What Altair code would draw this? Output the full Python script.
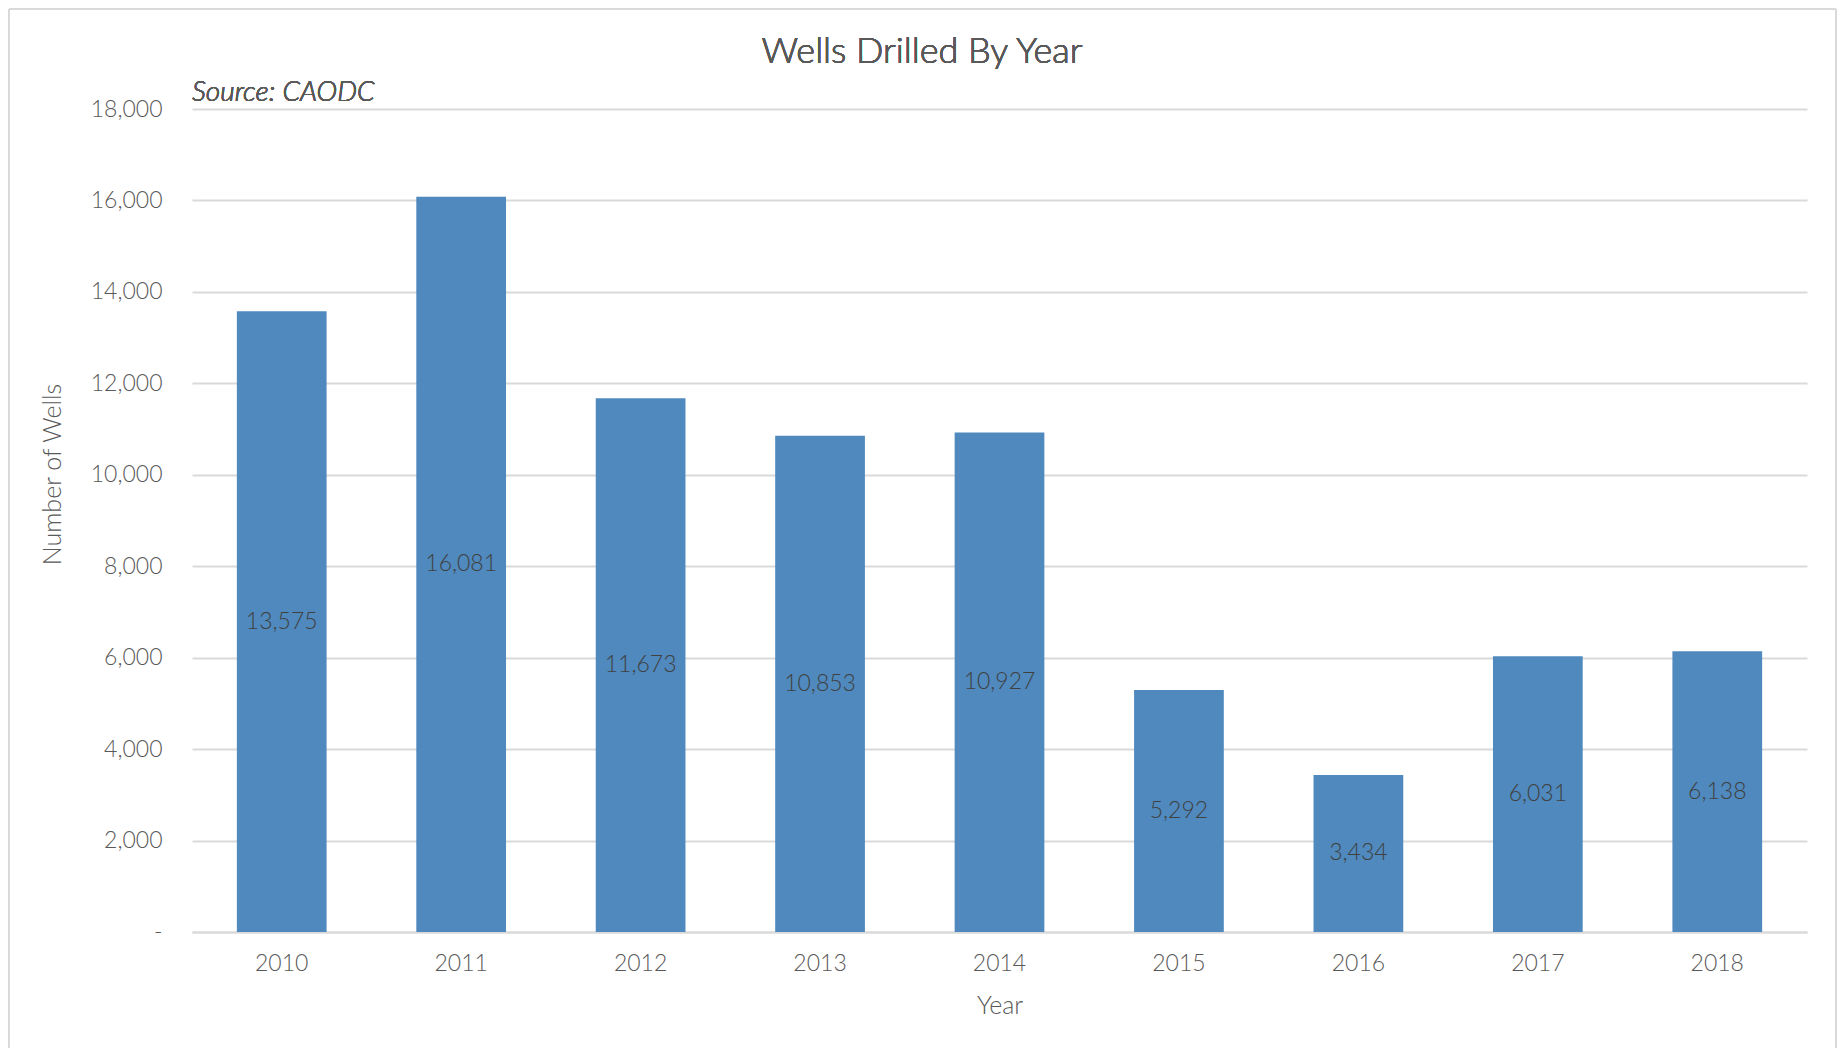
import altair as alt
import pandas as pd

years = ["2010", "2011", "2012", "2013", "2014", "2015", "2016", "2017", "2018"]
wells = [13575, 16081, 11673, 10853, 10927, 5292, 3434, 6031, 6138]

df = pd.DataFrame({"Year": years, "Wells": wells})

FONT = "Lato"
W, H = 1615, 823

base = alt.Chart(df)

x_enc = alt.X(
    "Year:N",
    sort=years,
    scale=alt.Scale(paddingInner=0.5, paddingOuter=0.25),
    axis=alt.Axis(
        title="Year",
        labelAngle=0,
        ticks=False,
        domain=True,
        domainColor="#D9D9D9",
        domainWidth=2,
        labelFontSize=23,
        labelColor="#595959",
        labelPadding=20,
        titleFontSize=25,
        titleColor="#595959",
        titleFontWeight=300,
        titlePadding=18,
        grid=False,
    ),
)

bars = base.mark_bar(color="#4F89BD").encode(
    x=x_enc,
    y=alt.Y(
        "Wells:Q",
        scale=alt.Scale(domain=[0, 18000]),
        axis=alt.Axis(
            title="Number of Wells",
            values=[0, 2000, 4000, 6000, 8000, 10000, 12000, 14000, 16000, 18000],
            labelExpr="datum.value == 0 ? '-' : format(datum.value, ',')",
            ticks=False,
            domain=False,
            grid=True,
            gridColor="#D9D9D9",
            gridWidth=2,
            labelFontSize=23,
            labelColor="#595959",
            labelPadding=30,
            titleFontSize=25,
            titleColor="#595959",
            titleFontWeight=300,
            titlePadding=25,
            titleY=365,
        ),
    ),
)

labels = base.transform_calculate(mid="datum.Wells / 2").mark_text(
    fontSize=23, color="#404040", font=FONT, fontWeight=300
).encode(
    x=alt.X("Year:N", sort=years),
    y=alt.Y("mid:Q"),
    text=alt.Text("Wells:Q", format=","),
)

title = base.mark_text(
    text="Wells Drilled By Year", align="center", baseline="middle",
    fontSize=36, fontWeight=300, color="#595959", font=FONT
).encode(x=alt.value(730), y=alt.value(-57))

source = base.mark_text(
    text="Source: CAODC", align="left", baseline="bottom",
    fontSize=28, fontStyle="italic", fontWeight=300, color="#595959", font=FONT
).encode(x=alt.value(0), y=alt.value(-2))

frame_color = "#D9D9D9"
left_border = base.mark_rule(color=frame_color, strokeWidth=2).encode(
    x=alt.value(-183), y=alt.value(-100), y2=alt.value(H + 120)
)
top_border = base.mark_rule(color=frame_color, strokeWidth=2).encode(
    x=alt.value(-183), x2=alt.value(W + 29), y=alt.value(-100)
)
right_border = base.mark_rule(color=frame_color, strokeWidth=2).encode(
    x=alt.value(W + 29), y=alt.value(-100), y2=alt.value(H + 120)
)

chart = (
    alt.layer(bars, labels, title, source, left_border, top_border, right_border)
    .properties(
        width=W,
        height=H,
        autosize=alt.AutoSizeParams(type="none"),
        padding={"left": 184, "top": 101, "right": 30, "bottom": 116},
    )
    .configure(font=FONT)
    .configure_view(stroke=None)
    .configure_axis(labelFont=FONT, titleFont=FONT, labelFontWeight=300)
)

chart.save("out.html", embed_options={"renderer": "svg", "actions": False})
